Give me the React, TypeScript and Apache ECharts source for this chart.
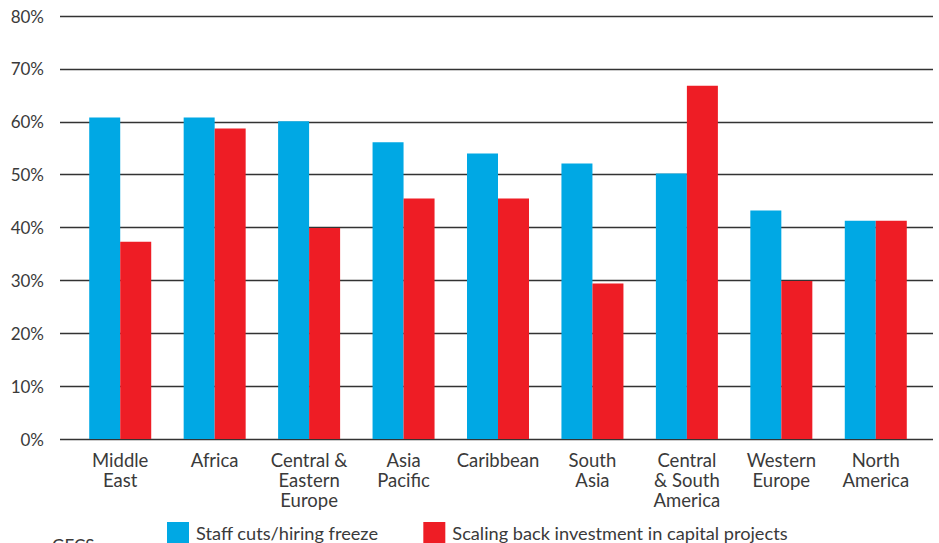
import React, { useEffect, useRef } from "react";
import * as echarts from "echarts";

const categories = [
  "Middle\nEast",
  "Africa",
  "Central &\nEastern\nEurope",
  "Asia\nPacific",
  "Caribbean",
  "South\nAsia",
  "Central\n& South\nAmerica",
  "Western\nEurope",
  "North\nAmerica",
];
const staffCuts = [60.8, 60.8, 60.1, 56.1, 54.0, 52.1, 50.2, 43.2, 41.3];
const scalingBack = [37.3, 58.7, 39.9, 45.5, 45.5, 29.4, 66.8, 29.9, 41.3];
const seriesNames = ["Staff cuts/hiring freeze", "Scaling back investment in capital projects"];
const yTicks = [0, 10, 20, 30, 40, 50, 60, 70, 80];

const FONT = "Lato";
const TEXT = "#3a3a3a";

export default function App() {
  const ref = useRef<HTMLDivElement>(null);
  useEffect(() => {
    if (!ref.current) return;
    const chart = echarts.init(ref.current, undefined, { renderer: "svg" });
    chart.setOption({
      animation: false,
      textStyle: { fontFamily: FONT },
      grid: [
        { left: 60, right: 6, top: 16, bottom: 104 },
        { left: 73, right: 16, top: 16, bottom: 104 },
      ],
      legend: {
        left: 162,
        top: 517,
        itemWidth: 22,
        itemHeight: 22,
        itemGap: 45,
        icon: "rect",
        textStyle: { fontSize: 18.2, color: TEXT, fontFamily: FONT, padding: [0, 0, 0, 2] },
        data: seriesNames,
      },
      xAxis: [
        { type: "category", gridIndex: 0, data: [], show: false },
        {
          type: "category",
          gridIndex: 1,
          data: categories,
          axisLine: { show: false },
          axisTick: { show: false },
          axisLabel: {
            interval: 0,
            fontSize: 18.5,
            lineHeight: 20,
            color: TEXT,
            margin: 11,
            fontFamily: FONT,
          },
        },
      ],
      yAxis: [
        {
          type: "value",
          gridIndex: 0,
          min: yTicks[0],
          max: yTicks[yTicks.length - 1],
          interval: 10,
          axisLine: { show: false },
          axisTick: { show: false },
          axisLabel: {
            formatter: "{value}%",
            fontSize: 17,
            color: TEXT,
            margin: 16,
            fontFamily: FONT,
          },
          splitLine: { lineStyle: { color: "#333", width: 1.3 } },
        },
        {
          type: "value",
          gridIndex: 1,
          min: 0,
          max: 80,
          interval: 10,
          show: false,
          splitLine: { show: false },
        },
      ],
      series: [
        {
          name: seriesNames[0],
          type: "bar",
          xAxisIndex: 1,
          yAxisIndex: 1,
          data: staffCuts,
          barWidth: 31,
          barGap: "0%",
          itemStyle: { color: "#00A8E4" },
        },
        {
          name: seriesNames[1],
          type: "bar",
          xAxisIndex: 1,
          yAxisIndex: 1,
          data: scalingBack,
          barWidth: 31,
          barGap: "0%",
          itemStyle: { color: "#EE1D25" },
        },
      ],
      graphic: [
        {
          type: "text",
          left: 52,
          top: 537,
          style: { text: "GECS", fontSize: 17, fill: TEXT, fontFamily: FONT },
        },
      ],
    });
    return () => chart.dispose();
  }, []);
  return <div ref={ref} style={{ width: 939, height: 543, position: "absolute", left: 0, top: 0 }} />;
}
